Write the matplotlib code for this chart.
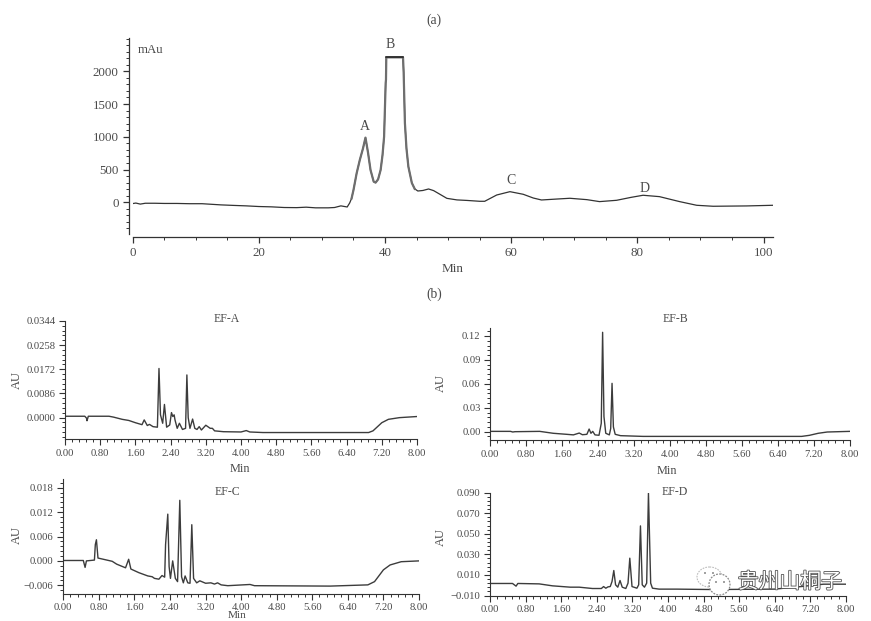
import matplotlib
matplotlib.use("Agg")
import matplotlib.pyplot as plt
from matplotlib.patches import Ellipse, Circle
import matplotlib.patheffects as pe

plt.rcParams["font.family"] = ["Liberation Serif", "DejaVu Serif"]

W, H = 871, 621
INK = "#4a4a4a"
LINE = "#3c3c3c"

# ---- data ----
a_t = [0, 0.5, 1.2, 2, 3.5, 5, 7, 9, 11, 12, 14, 16, 18, 20, 22, 24, 26, 27.5, 29, 31, 32, 33, 34,
       34.4, 34.7, 35, 35.5, 36, 36.5, 36.9, 37.3, 37.7, 38.2, 38.5, 38.9, 39.3, 39.6, 39.85, 40.1, 40.15, 40.2, 42.85,
       42.95, 43.15, 43.4, 43.7, 44.25, 44.7, 45.2, 46, 46.9, 47.7, 48.7, 49.8, 51.4, 53, 55, 55.8, 57.7,
       59.8, 61.9, 63.5, 64.8, 67, 69.3, 72, 74, 76.7, 79, 80.9, 83.5, 86.7, 89.4, 92, 97.3, 101.5]
a_v = [-20, -12, -28, -15, -15, -18, -18, -22, -22, -28, -40, -48, -55, -65, -70, -80, -82, -75, -85, -85, -80,
       -55, -72, -10, 60, 188, 443, 646, 820, 987, 760, 493, 315, 300, 350, 493, 720, 1000, 1820, 1870, 2213, 2213,
       1985, 1210, 820, 544, 295, 205, 172, 180, 203, 178, 122, 60, 36, 28, 15, 15, 111,
       162, 122, 65, 35, 48, 61, 40, 10, 30, 75, 107, 86, 10, -46, -61, -56, -46]
a_xticks = [0, 20, 40, 60, 80, 100]
a_xlabels = ["0", "20", "40", "60", "80", "100"]
a_yticks = [0, 500, 1000, 1500, 2000]
a_ylabels = ["0", "500", "1000", "1500", "2000"]

min_ticks = [0.0, 0.8, 1.6, 2.4, 3.2, 4.0, 4.8, 5.6, 6.4, 7.2, 8.0]
min_labels = ["0.00", "0.80", "1.60", "2.40", "3.20", "4.00", "4.80", "5.60", "6.40", "7.20", "8.00"]

efa_t = [0, 0.45, 0.49, 0.5, 0.53, 1.0, 1.1, 1.3, 1.45, 1.6, 1.75, 1.8, 1.87, 1.92, 2.0, 2.1, 2.136, 2.17, 2.22,
         2.26, 2.31, 2.38, 2.42, 2.45, 2.48, 2.5, 2.55, 2.6, 2.67, 2.74, 2.77, 2.8, 2.84, 2.9, 2.95, 3.0, 3.05,
         3.1, 3.2, 3.3, 3.35, 3.4, 3.6, 4.0, 4.12, 4.2, 4.5, 6.9, 7.0, 7.2, 7.35, 7.6, 8.0]
efa_v = [0.0005, 0.0005, -0.0002, -0.0011, 0.0005, 0.0005, 0.0002, -0.0006, -0.001, -0.0018, -0.0025, -0.0008,
         -0.0028, -0.0024, -0.0032, -0.0034, 0.0175, 0.001, -0.002, 0.0047, -0.0034, -0.0026, 0.0018, 0.0004,
         0.001, -0.0008, -0.0038, -0.002, -0.0042, -0.0038, 0.0152, 0.0, -0.0038, -0.0005, -0.0038, -0.0042,
         -0.0032, -0.0044, -0.0027, -0.0038, -0.0038, -0.0047, -0.005, -0.0051, -0.0046, -0.0051, -0.0053,
         -0.0053, -0.0047, -0.0018, -0.0006, 0.0, 0.0004]
efa_yticks = [0.0, 0.0086, 0.0172, 0.0258, 0.0344]
efa_ylabels = ["0.0000", "0.0086", "0.0172", "0.0258", "0.0344"]

efb_t = [0, 0.45, 0.5, 0.55, 1.1, 1.4, 1.7, 1.85, 1.98, 2.05, 2.15, 2.2, 2.24, 2.28, 2.33, 2.42, 2.47, 2.5, 2.53,
         2.57, 2.65, 2.68, 2.71, 2.74, 2.78, 2.9, 3.4, 6.93, 7.1, 7.3, 7.5, 8.0]
efb_v = [0.0004, 0.0004, -0.0004, 0.0, 0.0004, -0.002, -0.0033, -0.004, -0.0017, -0.0038, -0.0033, 0.0033, -0.002,
         0.0004, -0.004, -0.0045, 0.0105, 0.1246, 0.019, -0.002, -0.004, 0.004, 0.0606, 0.006, -0.0033, -0.005,
         -0.0059, -0.0059, -0.0046, -0.002, -0.0004, 0.0004]
efb_yticks = [0.0, 0.03, 0.06, 0.09, 0.12]
efb_ylabels = ["0.00", "0.03", "0.06", "0.09", "0.12"]

efc_t = [0, 0.45, 0.49, 0.52, 0.7, 0.72, 0.745, 0.78, 0.9, 1.1, 1.2, 1.4, 1.47, 1.52, 1.7, 1.9, 2.0, 2.05, 2.15,
         2.22, 2.28, 2.3, 2.35, 2.38, 2.41, 2.46, 2.52, 2.57, 2.62, 2.66, 2.7, 2.74, 2.8, 2.85, 2.89, 2.93, 3.0,
         3.07, 3.2, 3.32, 3.4, 3.47, 3.55, 3.7, 4.2, 4.3, 6.0, 6.85, 7.0, 7.2, 7.35, 7.6, 8.0]
efc_v = [0.0001, 0.0001, -0.0016, 0.0, 0.0002, 0.004, 0.0052, 0.0007, 0.0004, -0.0001, -0.0008, -0.0017, 0.0004,
         -0.002, -0.0029, -0.0037, -0.0039, -0.0043, -0.0045, -0.0036, -0.004, 0.004, 0.0115, -0.0014, -0.0043, 0.0,
         -0.0043, -0.0051, 0.0149, -0.0039, -0.0054, -0.0037, -0.0054, -0.0055, 0.0089, -0.0043, -0.0054, -0.0049,
         -0.0055, -0.0054, -0.0057, -0.0054, -0.0059, -0.0061, -0.0058, -0.0061, -0.0062, -0.0059, -0.0051, -0.0022,
         -0.001, -0.0002, 0.0]
efc_yticks = [-0.006, 0.0, 0.006, 0.012, 0.018]
efc_ylabels = ["\u22120.006", "0.000", "0.006", "0.012", "0.018"]

efd_t = [0, 0.5, 0.58, 0.62, 1.1, 1.4, 1.8, 2.0, 2.3, 2.5, 2.55, 2.6, 2.65, 2.7, 2.74, 2.78, 2.82, 2.87, 2.92, 2.97,
         3.05, 3.1, 3.14, 3.19, 3.3, 3.34, 3.38, 3.42, 3.47, 3.52, 3.56, 3.61, 3.65, 3.8, 4.2, 5.0, 6.4, 7.0, 7.2, 7.5, 8.0]
efd_v = [0.0017, 0.0017, -0.0009, 0.0017, 0.0013, -0.0006, -0.0019, -0.0019, -0.0032, -0.0032, -0.0013, -0.0029,
         -0.0016, -0.0013, 0.0036, 0.0143, 0.0004, -0.0019, 0.0046, -0.0019, -0.0032, 0.002, 0.0263, -0.0013, -0.0029,
         0.0004, 0.0577, 0.0004, -0.0019, 0.002, 0.0895, 0.002, -0.0029, -0.0038, -0.0038, -0.0042, -0.0038, -0.0013,
         -0.0003, 0.001, 0.001]
efd_yticks = [-0.01, 0.01, 0.03, 0.05, 0.07, 0.09]
efd_ylabels = ["\u22120.010", "0.010", "0.030", "0.050", "0.070", "0.090"]


def px_axes(fig, x0, x1, y_top, y_bot):
    return fig.add_axes([x0 / W, 1 - y_bot / H, (x1 - x0) / W, (y_bot - y_top) / H])


def style(ax, fs, lw=0.9):
    for s in ["top", "right"]:
        ax.spines[s].set_visible(False)
    for s in ["left", "bottom"]:
        ax.spines[s].set_linewidth(lw)
        ax.spines[s].set_color("#333333")
    ax.tick_params(which="major", length=4, width=lw, labelsize=fs, labelcolor=INK, color="#333333", pad=3)
    ax.tick_params(which="minor", length=2, width=0.7, color="#333333")
    ax.patch.set_alpha(0)


def ef_panel(fig, rect, t, v, ylim, yticks, ylabels, yminor):
    ax = px_axes(fig, *rect)
    ax.plot(t, v, color=LINE, lw=1.0, solid_joinstyle="round")
    ax.set_xlim(0, 8)
    ax.set_ylim(*ylim)
    ax.set_xticks(min_ticks, min_labels)
    ax.set_xticks([i * 0.16 for i in range(51)], minor=True)
    ax.set_yticks(yticks, ylabels)
    ax.set_yticks(yminor, minor=True)
    style(ax, 7.7, 0.8)
    return ax


fig = plt.figure(figsize=(W / 100, H / 100), dpi=100, facecolor="white")

# ---- panel (a) ----
ax = px_axes(fig, 132.7, 773, 38.3, 233.7)
ax.plot(a_t, a_v, color="#333333", lw=0.9)
# the A and B peaks print heavier and greyer than the baseline
i0, i1 = a_t.index(34.7), a_t.index(44.7)
ax.plot(a_t[i0:i1 + 1], a_v[i0:i1 + 1], color="#6e6e6e", lw=1.6)
ax.plot(a_t[a_t.index(40.2):a_t.index(42.85) + 1], a_v[a_t.index(40.2):a_t.index(42.85) + 1], color="#222222", lw=1.1)
ax.set_xlim(0, 101.5)
ax.set_ylim(-480, 2504)
ax.set_xticks(a_xticks, a_xlabels)
ax.set_xticks(list(range(0, 101, 5)), minor=True)
ax.set_yticks(a_yticks, a_ylabels)
ax.set_yticks(list(range(-400, 2501, 100)), minor=True)
style(ax, 9.3)
ax.spines["left"].set_position(("outward", 3))
ax.spines["bottom"].set_position(("outward", 2.5))

# ---- panels (b) ----
ef_panel(fig, (65, 417, 321, 439), efa_t, efa_v, (-0.0076, 0.0344), efa_yticks, efa_ylabels,
         [-0.00688 + i * 0.00172 for i in range(25)])
ef_panel(fig, (490.3, 849.7, 328, 440.3), efb_t, efb_v, (-0.0108, 0.13), efb_yticks, efb_ylabels,
         [-0.006 + i * 0.006 for i in range(23)])
ef_panel(fig, (63.3, 419, 479.3, 593.7), efc_t, efc_v, (-0.00807, 0.02007), efc_yticks, efc_ylabels,
         [-0.0072 + i * 0.0012 for i in range(23)])
ef_panel(fig, (490.3, 845.7, 492.7, 595.5), efd_t, efd_v, (-0.01, 0.09), efd_yticks, efd_ylabels,
         [-0.01 + i * 0.004 for i in range(26)])

# ---- labels placed in picture pixels ----
ov = fig.add_axes([0, 0, 1, 1], zorder=5)
ov.set_xlim(0, W)
ov.set_ylim(H, 0)
ov.axis("off")


def label(x, y, s, fs=8.5, **kw):
    ov.text(x, y, s, fontsize=fs, color=INK, ha="center", va="center", **kw)


label(434, 20, "(a)", 9.8)
label(434, 294, "(b)", 9.8)
label(151, 50, "mAu", 9.3)
label(365, 127, "A", 10)
label(390, 45, "B", 10)
label(511, 181, "C", 10)
label(645, 188, "D", 10)
label(453, 269, "Min", 9.5)
label(227, 319, "EF-A")
label(675, 319, "EF-B")
label(227, 492, "EF-C")
label(675, 492, "EF-D")
label(240, 469, "Min", 8.8)
label(667, 471, "Min", 8.8)
label(237, 615.5, "Min", 8.2)
label(16.5, 380, "AU", 9, rotation=90)
label(441, 383, "AU", 9, rotation=90)
label(16.5, 535, "AU", 9, rotation=90)
label(441, 537, "AU", 9, rotation=90)

# ---- watermark ----
ov.add_patch(Ellipse((709.5, 577), 25, 20, fc="white", ec="#bdbdbd", lw=0.8, ls=(0, (1.5, 1))))
ov.add_patch(Circle((719.5, 584.5), 10.5, fc="white", ec="#8a8a8a", lw=0.9, ls=(0, (1.5, 1))))
for ex, ey in [(705, 573), (713, 573), (716, 582), (724, 582)]:
    ov.add_patch(Circle((ex, ey), 1.0, fc="#8a8a8a", ec="none"))
wm = ov.text(790, 582, "贵州山桐子", fontsize=15, color="white", ha="center", va="center",
             family=["Noto Sans CJK SC", "DejaVu Sans"])
wm.set_path_effects([pe.Stroke(linewidth=1.2, foreground="#555555"), pe.Normal()])

fig.savefig("out.png", dpi=100)
